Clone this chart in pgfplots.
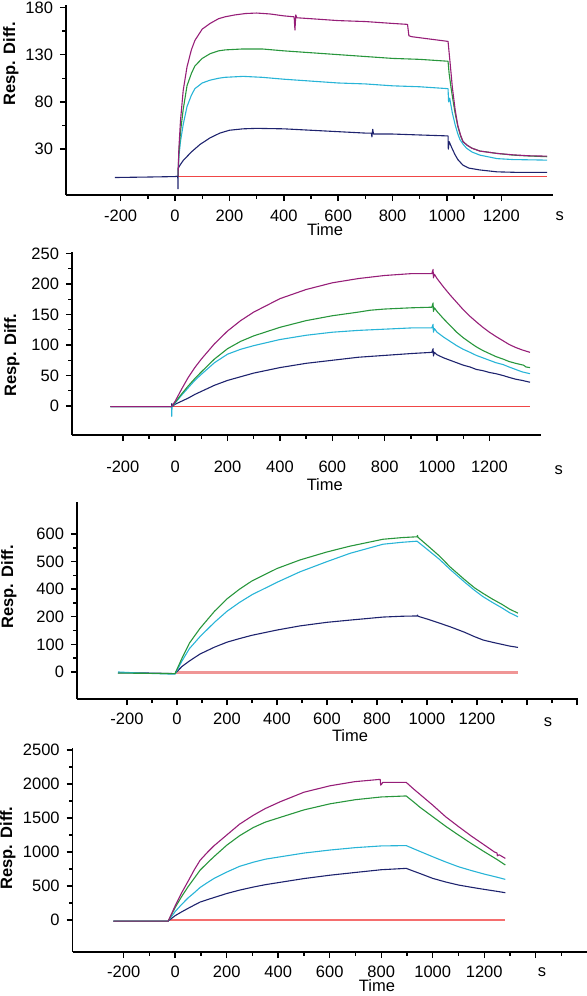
\documentclass[border=0pt]{standalone}
\usepackage{fontspec}
\setmainfont{Liberation Sans}
\usepackage{pgfplots}
\pgfplotsset{compat=1.18}
\definecolor{cMag}{RGB}{150,30,120}
\definecolor{cGrn}{RGB}{40,150,60}
\definecolor{cCyn}{RGB}{40,180,215}
\definecolor{cNav}{RGB}{30,35,110}
\definecolor{cRed}{RGB}{240,70,70}
\definecolor{cSal}{RGB}{240,150,150}
\definecolor{cRed4}{RGB}{245,110,110}
\newcommand{\tf}{\fontsize{8.25bp}{10bp}\selectfont}
\pgfplotsset{panel/.style={
  scale only axis,
  axis x line*=bottom, axis y line*=left,
  axis line style={line width=0.75bp, black, -},
  tick align=outside,
  major tick length=3bp, minor tick length=1.8bp,
  every tick/.style={black, line width=0.7bp},
  minor x tick num=1, minor y tick num=1,
  ticklabel style={font=\tf},
  xlabel style={font=\tf, anchor=center},
  ylabel style={font=\tf\bfseries, anchor=center},
  clip=false,
  every axis plot/.append style={line width=0.55bp, line join=round},
  /pgf/number format/assume math mode=true,
}}
\begin{document}
\begin{tikzpicture}
\useasboundingbox (0,0) rectangle (293.5bp,-498bp);
% ---------------- Panel 1 ----------------
\begin{axis}[panel, at={(33bp,-2.5bp)}, anchor=north west,
  width=243.5bp, height=95bp,
  xmin=-401, xmax=1390, ymin=-18.5, ymax=182.5,
  xtick={-200,0,200,400,600,800,1000,1200},
  xticklabels={-200,0,200,400,600,800,1000,1200},
  ytick={30,80,130,180}, yticklabels={30,80,130,180},
  xticklabel style={yshift=-1bp},
  xlabel={Time}, xlabel style={at={(axis description cs:0.532,-0.18)}},
  ylabel={Resp. Diff.}, ylabel style={at={(axis description cs:-0.113,0.69)}},
]
\addplot[cRed] coordinates {(11,1.5)(1368,1.5)};
\addplot[cNav] coordinates {(-221,0)(-100,0.5)(0,1)(10,1.5)(11,-12)(12,10)(18,13)(30,18)(40,21)(60,27)(92,35)(129,42)(165,47)(200,50)(250,51.5)(300,52)(400,51.5)(500,50)(600,48.5)(700,47)(722,47)(724,43)(727,51)(730,46)(800,46)(900,45)(1004,44)(1005,30)(1008,38)(1020,30)(1030,24)(1040,19)(1059,13)(1080,10)(1121,8)(1184,6)(1250,5.5)(1368,5.5)};
\addplot[cCyn] coordinates {(11,2)(14,22)(20,38)(30,56)(44,75)(60,87)(73,94)(100,100)(129,103)(160,105)(184,106)(250,107)(320,106)(400,104)(500,102)(600,100)(700,99)(800,97)(900,96)(1004,94)(1006,80)(1010,84)(1020,68)(1030,56)(1040,46)(1048,40)(1060,35)(1072,31)(1092,27)(1121,23.7)(1184,20)(1243,19)(1368,18.4)};
\addplot[cGrn] coordinates {(11,2)(14,25)(20,48)(30,72)(44,97)(60,110)(73,118)(100,126)(129,131)(160,134)(184,135)(250,136)(320,136)(400,134)(500,132)(600,130)(700,128)(800,126)(900,125)(1004,123)(1008,110)(1015,95)(1022,82)(1030,68)(1040,54)(1050,44)(1059,38)(1075,34)(1092,31)(1121,28)(1184,25.5)(1243,23.7)(1300,22.8)(1368,22)};
\addplot[cMag] coordinates {(11,2)(14,30)(20,60)(30,92)(44,117)(60,135)(73,145)(100,157)(129,163)(160,168)(184,170)(220,172)(260,173.5)(300,174)(350,173)(400,171)(438,170)(441,156)(444,172)(448,169)(500,168)(600,166)(700,165)(800,163)(855,162)(860,150)(870,149)(950,146)(1004,144)(1012,120)(1020,95)(1030,72)(1040,55)(1050,45)(1059,38)(1075,34)(1092,31)(1121,28)(1184,25.5)(1243,24)(1300,23)(1368,22.6)};
\node[font=\tf] at (axis description cs:1.014,-0.11) {s};
\end{axis}
% ---------------- Panel 2 ----------------
\begin{axis}[panel, at={(36bp,-126bp)}, anchor=north west,
  width=234.5bp, height=91.5bp,
  xmin=-394, xmax=1397, ymin=-47.5, ymax=252.5,
  xtick={-200,0,200,400,600,800,1000,1200},
  xticklabels={-200,0,200,400,600,800,1000,1200},
  ytick={0,50,100,150,200,250}, yticklabels={0,50,100,150,200,250},
  xticklabel style={yshift=-6.5bp},
  xlabel={Time}, xlabel style={at={(axis description cs:0.539,-0.273)}},
  ylabel={Resp. Diff.}, ylabel style={at={(axis description cs:-0.128,0.437)}},
]
\addplot[cRed] coordinates {(-14,-0.5)(1355,-0.5)};
\addplot[cNav] coordinates {(-247,-1)(-14,-1)(-13,4)(-12,-1)(0,3)(25,8)(50,13)(75,19)(100,24)(150,34)(200,42)(250,48)(300,54)(400,63)(500,70)(600,75)(700,80)(800,83)(900,86)(980,88)(985,94)(986,82)(990,88)(1000,84)(1025,79)(1050,75)(1075,71)(1100,67)(1126,64)(1150,60)(1175,58)(1200,55)(1225,53)(1252,50)(1275,47)(1300,44)(1325,42)(1355,39)};
\addplot[cCyn] coordinates {(-247,-1)(-14,-1)(-13,-17)(-12,0)(0,5)(25,18)(50,30)(75,42)(100,52)(150,71)(200,85)(250,93)(300,99)(400,109)(500,116)(600,121)(700,124)(800,126)(900,128)(980,128)(985,134)(986,121)(990,127)(1000,121)(1025,113)(1050,106)(1075,99)(1100,93)(1126,88)(1150,83)(1175,79)(1200,75)(1225,71)(1252,68)(1275,64)(1300,60)(1325,56)(1355,53)};
\addplot[cGrn] coordinates {(-247,-1)(-14,-1)(0,6)(25,20)(50,33)(75,45)(100,56)(150,77)(200,94)(250,106)(300,115)(400,129)(500,140)(600,148)(700,154)(744,157)(800,159)(900,161)(980,162)(985,169)(986,155)(990,161)(1000,155)(1025,143)(1050,132)(1075,121)(1100,112)(1126,104)(1150,97)(1175,91)(1200,86)(1225,81)(1252,77)(1275,73)(1300,70)(1330,67)(1340,64)(1355,63)};
\addplot[cMag] coordinates {(-247,-1)(-14,-1)(0,8)(25,28)(50,47)(75,63)(100,77)(150,102)(200,123)(250,140)(300,154)(400,176)(500,191)(600,202)(700,209)(800,214)(900,217)(980,217)(985,224)(986,210)(990,216)(1000,209)(1025,195)(1050,182)(1075,170)(1100,158)(1126,147)(1150,138)(1175,129)(1200,121)(1225,114)(1252,107)(1275,101)(1300,96)(1325,92)(1355,88)};
\node[font=\tf] at (axis description cs:1.038,-0.191) {s};
\end{axis}
% ---------------- Panel 3 ----------------
\begin{axis}[panel, at={(38.5bp,-251bp)}, anchor=north west,
  width=250.5bp, height=98.5bp,
  xmin=-400, xmax=1604, ymin=-98, ymax=616,
  xtick={-200,0,200,400,600,800,1000,1200,1400,1600},
  xticklabels={-200,0,200,400,600,800,1000,1200,{},{}},
  ytick={0,100,200,300,400,500}, yticklabels={0,100,200,400,500,600},
  xticklabel style={yshift=-0.5bp},
  xlabel={Time}, xlabel style={at={(axis description cs:0.545,-0.185)}},
  ylabel={Resp. Diff.}, ylabel style={at={(axis description cs:-0.136,0.569)}},
]
\addplot[cSal, line width=1.6bp] coordinates {(-8,-3)(1364,-3)};
\addplot[cNav] coordinates {(-236,-3)(-100,-4)(-8,-6)(20,20)(50,40)(92,65)(150,90)(200,108)(250,121)(300,133)(400,152)(492,167)(600,180)(692,188)(824,199)(900,202)(960,203)(962,206)(964,202)(1000,192)(1050,177)(1092,164)(1150,144)(1190,128)(1224,116)(1260,108)(1300,100)(1330,94)(1364,89)};
\addplot[cCyn] coordinates {(-236,0)(-150,-4)(-8,-8)(20,40)(50,85)(92,128)(150,180)(200,220)(250,252)(300,280)(400,325)(492,363)(600,400)(692,430)(824,463)(900,470)(960,474)(1000,445)(1050,408)(1092,372)(1150,326)(1190,296)(1224,273)(1260,253)(1300,232)(1330,215)(1364,200)};
\addplot[cGrn] coordinates {(-236,-4)(-100,-5)(-8,-6)(20,50)(50,105)(92,158)(150,220)(200,265)(250,300)(300,330)(400,375)(492,406)(600,435)(692,456)(824,481)(900,487)(960,490)(962,495)(964,488)(1000,460)(1050,420)(1092,381)(1150,335)(1190,305)(1224,285)(1260,265)(1300,245)(1330,228)(1364,213)};
\node[font=\tf] at (axis description cs:0.94,-0.117) {s};
\end{axis}
% ---------------- Panel 4 ----------------
\begin{axis}[panel, at={(36.35bp,-374bp)}, anchor=north west,
  width=257bp, height=102bp,
  xmin=-398, xmax=1598, ymin=-470, ymax=2530,
  xtick={-200,0,200,400,600,800,1000,1200,1400,1600},
  xticklabels={-200,0,200,400,600,800,1000,1200,{},{}},
  ytick={0,500,1000,1500,2000,2500}, yticklabels={0,500,1000,1500,2000,2500},
  xticklabel style={yshift=-0.5bp},
  xlabel={Time}, xlabel style={at={(axis description cs:0.592,-0.167)}},
  ylabel={Resp. Diff.}, ylabel style={at={(axis description cs:-0.126,0.51)}},
]
\addplot[cRed4, line width=1.1bp] coordinates {(-27,0)(1282,0)};
\addplot[cNav] coordinates {(-240,-15)(-27,-15)(0,65)(25,120)(50,172)(75,222)(97,265)(125,300)(150,330)(200,390)(250,440)(303,485)(350,520)(408,555)(500,610)(602,660)(700,700)(800,740)(897,760)(925,720)(950,685)(1000,613)(1050,560)(1100,515)(1150,482)(1200,451)(1250,422)(1282,402)};
\addplot[cCyn] coordinates {(-240,-15)(-27,-15)(0,125)(25,230)(50,325)(75,405)(97,480)(125,550)(150,610)(200,705)(250,790)(303,850)(350,895)(408,930)(500,985)(602,1030)(700,1065)(800,1090)(897,1095)(925,1050)(950,1010)(1000,931)(1050,855)(1100,784)(1150,728)(1200,676)(1250,630)(1282,598)};
\addplot[cGrn] coordinates {(-240,-15)(-27,-15)(0,185)(25,345)(50,490)(75,620)(97,735)(125,840)(150,930)(200,1100)(250,1240)(303,1360)(350,1440)(408,1510)(500,1620)(602,1710)(700,1770)(800,1810)(897,1825)(925,1740)(950,1660)(1000,1520)(1050,1380)(1100,1250)(1150,1125)(1200,1005)(1250,890)(1282,809)};
\addplot[cMag] coordinates {(-240,-15)(-27,-15)(0,210)(25,400)(50,570)(75,745)(97,880)(125,995)(150,1090)(200,1250)(250,1410)(303,1540)(350,1640)(408,1740)(500,1880)(602,1975)(697,2035)(796,2069)(798,1985)(802,2000)(806,2025)(897,2025)(925,1930)(950,1850)(1000,1690)(1050,1520)(1100,1375)(1150,1235)(1200,1105)(1240,1000)(1250,985)(1251,945)(1258,960)(1282,907)};
\node[font=\tf] at (axis description cs:0.913,-0.098) {s};
\end{axis}
\end{tikzpicture}
\end{document}
